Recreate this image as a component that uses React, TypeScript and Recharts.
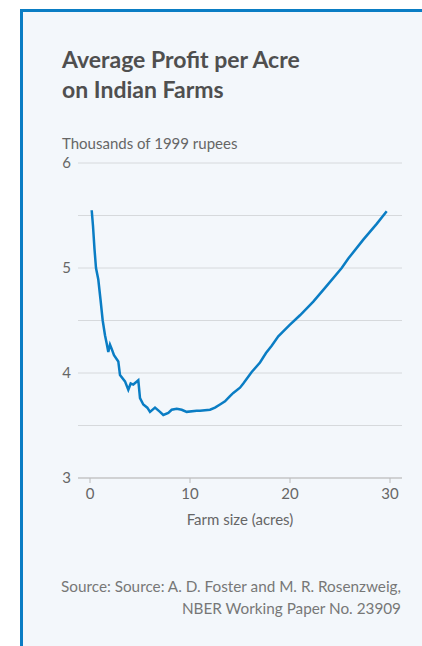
import React from "react"
import { LineChart, Line, XAxis, YAxis, CartesianGrid } from "recharts"

const farmSize = [
  0.17, 0.3, 0.45, 0.6, 0.83, 1.05, 1.27, 1.5, 1.67, 1.83, 2.0, 2.17, 2.4, 2.83, 3.0, 3.5, 3.83, 4.07, 4.33, 4.83,
  5.0, 5.33, 5.73, 6.0, 6.5, 7.0, 7.33, 7.83, 8.17, 8.67, 9.17, 9.67, 10.67, 11.0, 12.0, 12.5, 13.0, 13.5, 14.0,
  14.33, 15.0, 15.33, 16.17, 17.0, 17.6, 18.17, 18.83, 20.0, 21.0, 22.33, 23.67, 25.17, 25.83, 27.33, 28.67, 29.67,
]
const profit = [
  5.55, 5.4, 5.18, 5.0, 4.89, 4.7, 4.5, 4.36, 4.28, 4.2, 4.27, 4.23, 4.17, 4.11, 3.98, 3.92, 3.84, 3.9, 3.89, 3.93,
  3.76, 3.7, 3.67, 3.63, 3.67, 3.63, 3.6, 3.62, 3.65, 3.66, 3.65, 3.63, 3.64, 3.64, 3.65, 3.67, 3.7, 3.73, 3.78,
  3.81, 3.86, 3.9, 4.01, 4.1, 4.19, 4.26, 4.35, 4.46, 4.55, 4.68, 4.83, 5.0, 5.09, 5.27, 5.42, 5.54,
]
const yTicks = [3, 3.5, 4, 4.5, 5, 5.5, 6]
const xTicks = [0, 10, 20, 30]

const data = farmSize.map((x, i) => ({ x, y: profit[i] }))

const font = "Lato, 'Open Sans', sans-serif"

export default function App() {
  return (
    <div style={{ position: "absolute", left: 0, top: 0, width: 422, height: 646, overflow: "hidden", fontFamily: font }}>
      <div
        style={{
          position: "absolute",
          left: 20,
          top: 9,
          width: 399,
          height: 634,
          background: "#f3f7fb",
          borderLeft: "3px solid #0a7dc4",
          borderTop: "3px solid #0a7dc4",
        }}
      />
      <div style={{ position: "absolute", left: 62, top: 44, fontSize: 23, fontWeight: 700, color: "#4f4f4f", lineHeight: "30px" }}>
        Average Profit per Acre
        <br />
        on Indian Farms
      </div>
      <div style={{ position: "absolute", left: 62, top: 134, fontSize: 15, color: "#666" }}>Thousands of 1999 rupees</div>
      <div style={{ position: "absolute", left: 78, width: 324, top: 510, fontSize: 15, color: "#666", textAlign: "center" }}>
        Farm size (acres)
      </div>
      <div style={{ position: "absolute", right: 21, top: 575, fontSize: 15.3, color: "#777", textAlign: "right", lineHeight: "22px" }}>
        Source: Source: A. D. Foster and M. R. Rosenzweig,
        <br />
        NBER Working Paper No. 23909
      </div>
      <div style={{ position: "absolute", left: 0, top: 0 }}>
        <LineChart width={422} height={646} data={data} margin={{ top: 163, right: 20, left: 0, bottom: 0 }}>
          <CartesianGrid vertical={false} stroke="#d6d9dc" strokeWidth={1} />
          <XAxis
            dataKey="x"
            type="number"
            domain={[-1.2, 31.2]}
            ticks={xTicks}
            height={168}
            stroke="#bbb"
            tickSize={5}
            tickMargin={5}
            tick={{ fill: "#666", fontSize: 15, fontFamily: font }}
          />
          <YAxis
            type="number"
            domain={[3, 6]}
            ticks={yTicks}
            width={78}
            axisLine={false}
            tickLine={false}
            tickSize={0}
            tickMargin={7}
            interval={0}
            tickFormatter={(v: number) => (Number.isInteger(v) ? String(v) : "")}
            tick={{ fill: "#666", fontSize: 15, fontFamily: font }}
          />
          <Line dataKey="y" stroke="#0a7dc4" strokeWidth={2.5} dot={false} isAnimationActive={false} type="linear" />
        </LineChart>
      </div>
    </div>
  )
}
